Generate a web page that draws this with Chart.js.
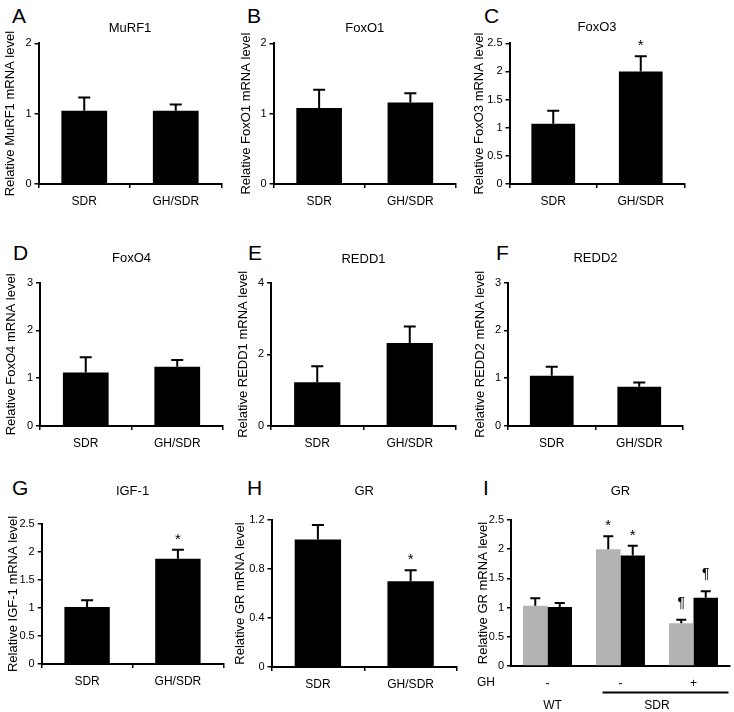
<!DOCTYPE html>
<html>
<head>
<meta charset="utf-8">
<script src="https://cdn.jsdelivr.net/npm/chart.js@4.4.0/dist/chart.umd.min.js"></script>
<style>
  body { margin: 0; background: #fff; width: 734px; height: 712px; position: relative; overflow: hidden;
         font-family: "Liberation Sans", Arial, sans-serif; }
  canvas { position: absolute; }
  .letter { position: absolute; font-size: 21px; line-height: 21px; color: #000; }
</style>
</head>
<body>
<div class="letter" style="left:12px;top:5px">A</div>
<div class="letter" style="left:247px;top:5px">B</div>
<div class="letter" style="left:484px;top:5px">C</div>
<div class="letter" style="left:13px;top:242px">D</div>
<div class="letter" style="left:248px;top:242px">E</div>
<div class="letter" style="left:496px;top:242px">F</div>
<div class="letter" style="left:12px;top:477px">G</div>
<div class="letter" style="left:247px;top:477px">H</div>
<div class="letter" style="left:483px;top:477px">I</div>

<canvas id="pA"></canvas>
<canvas id="pB"></canvas>
<canvas id="pC"></canvas>
<canvas id="pD"></canvas>
<canvas id="pE"></canvas>
<canvas id="pF"></canvas>
<canvas id="pG"></canvas>
<canvas id="pH"></canvas>
<canvas id="pI"></canvas>

<script>
// values (mean and error bar height)
var groups = ["SDR", "GH/SDR"];

var murf1 = [1.04, 1.04];
var murf1Err = [0.19, 0.09];
var foxo1 = [1.08, 1.16];
var foxo1Err = [0.26, 0.13];
var foxo3 = [1.07, 2.0];
var foxo3Err = [0.23, 0.27];
var foxo3Sig = ["", "*"];
var foxo4 = [1.12, 1.24];
var foxo4Err = [0.32, 0.14];
var redd1 = [1.22, 2.32];
var redd1Err = [0.45, 0.46];
var redd2 = [1.05, 0.82];
var redd2Err = [0.19, 0.09];
var igf1 = [1.02, 1.88];
var igf1Err = [0.12, 0.16];
var igf1Sig = ["", "*"];
var gr = [1.04, 0.70];
var grErr = [0.12, 0.09];
var grSig = ["", "*"];

// panel I
var ghRow = ["-", "-", "+"];
var ghLabel = "GH";
var strains = ["WT", "SDR"];
var grGrey = [1.03, 2.0, 0.73];
var grGreyErr = [0.13, 0.22, 0.06];
var grGreySig = ["", "*", "\u00b6"];
var grBlack = [1.01, 1.89, 1.17];
var grBlackErr = [0.07, 0.17, 0.11];
var grBlackSig = ["", "*", "\u00b6"];

// y tick values
var ticks2 = [0, 1, 2];
var ticks25 = [0, 0.5, 1, 1.5, 2, 2.5];
var ticks3 = [0, 1, 2, 3];
var ticks4 = [0, 2, 4];
var ticks12 = [0, 0.4, 0.8, 1.2];

Chart.defaults.font.family = '"Liberation Sans", Arial, sans-serif';
Chart.defaults.color = '#000';

// error bars + significance marks
var errorBars = {
  id: 'errorBars',
  afterDatasetsDraw: function(chart, args, opts) {
    var ctx = chart.ctx, y = chart.scales.y;
    chart.data.datasets.forEach(function(ds, i) {
      chart.getDatasetMeta(i).data.forEach(function(bar, j) {
        var top = y.getPixelForValue(ds.data[j] + ds.errors[j]);
        ctx.save();
        ctx.strokeStyle = '#000';
        ctx.lineWidth = 2;
        ctx.beginPath();
        ctx.moveTo(bar.x, bar.y);
        ctx.lineTo(bar.x, top);
        ctx.moveTo(bar.x - opts.cap, top);
        ctx.lineTo(bar.x + opts.cap, top);
        ctx.stroke();
        var m = ds.marks ? ds.marks[j] : '';
        if (m) {
          ctx.fillStyle = '#000';
          ctx.textAlign = 'center';
          ctx.textBaseline = 'alphabetic';
          ctx.font = (m == '*' ? '15px' : '14px') + ' "Liberation Sans", Arial, sans-serif';
          ctx.fillText(m, bar.x, top - (m == '*' ? 6 : 13));
        }
        ctx.restore();
      });
    });
  }
};

// GH row label, SDR bracket line, strain names under panel I
var strainRow = {
  id: 'strainRow',
  afterDraw: function(chart) {
    var ctx = chart.ctx, x = chart.scales.x, a = chart.chartArea;
    var x0 = x.getPixelForValue(0), x1 = x.getPixelForValue(1), x2 = x.getPixelForValue(2);
    ctx.save();
    ctx.fillStyle = '#000';
    ctx.strokeStyle = '#000';
    ctx.font = '12px "Liberation Sans", Arial, sans-serif';
    ctx.textBaseline = 'middle';
    ctx.textAlign = 'right';
    ctx.fillText(ghLabel, a.left - 16, a.bottom + 17);
    ctx.textAlign = 'center';
    ctx.fillText(strains[0], x0 + 5, a.bottom + 40);
    ctx.fillText(strains[1], (x1 + x2) / 2, a.bottom + 40);
    ctx.lineWidth = 2;
    ctx.beginPath();
    ctx.moveTo(x1 - 18, a.bottom + 26.5);
    ctx.lineTo(x2 + 35, a.bottom + 26.5);
    ctx.stroke();
    ctx.restore();
  }
};

function panel(id, g, title, yTitle, labels, datasets, yTicks, extra) {
  var c = document.getElementById(id);
  var w = Math.round(g.axisR + 4 - g.left);
  var h = Math.round(g.bottom - g.top);
  c.width = w;
  c.height = h;
  c.style.left = g.left + 'px';
  c.style.top = g.top + 'px';
  var plugins = [errorBars];
  if (extra) plugins.push(extra);
  return new Chart(c, {
    type: 'bar',
    data: { labels: labels, datasets: datasets },
    options: {
      responsive: false,
      animation: false,
      layout: { padding: { left: 0, top: 0, bottom: 0, right: w - (g.axisR - g.left) } },
      plugins: {
        legend: { display: false },
        tooltip: { enabled: false },
        title: {
          display: true, text: title, fullSize: false, color: '#000',
          font: { size: 13, weight: 'normal' },
          padding: { top: 0, bottom: g.yTop - g.top - 15.6 }
        },
        errorBars: { cap: g.cap || 6 }
      },
      scales: {
        x: {
          grid: { drawOnChartArea: false, drawTicks: g.xTicks !== false, tickLength: 4, color: '#000', lineWidth: 1.5 },
          border: { display: true, color: '#000', width: 2 },
          ticks: { font: { size: 12 }, color: '#000', padding: g.xPad || 6, maxRotation: 0, autoSkip: false },
          afterFit: function(s) { s.height = h - (g.yBot - g.top); }
        },
        y: {
          min: 0,
          max: yTicks[yTicks.length - 1],
          grid: { drawOnChartArea: false, tickLength: 4, color: '#000', lineWidth: 1.5 },
          border: { display: true, color: '#000', width: 2 },
          ticks: { font: { size: 11 }, color: '#000', padding: 3, callback: function(v) { return String(v); } },
          afterBuildTicks: function(s) { s.ticks = yTicks.map(function(v) { return { value: v }; }); },
          title: { display: true, text: yTitle, color: '#000', font: { size: 13 }, padding: { top: g.titleGap || 0, bottom: 0 } },
          afterFit: function(s) { s.width = g.axisL - g.left; }
        }
      }
    },
    plugins: plugins
  });
}

function pair(values, errs, marks) {
  return [{
    data: values, errors: errs, marks: marks || null,
    backgroundColor: '#000', barPercentage: 0.5, categoryPercentage: 1
  }];
}

panel('pA', { left: 3, top: 21, bottom: 214, axisL: 38.5, axisR: 221.5, yTop: 43.3, yBot: 184 },
  'MuRF1', 'Relative MuRF1 mRNA level', groups, pair(murf1, murf1Err), ticks2);
panel('pB', { left: 239, top: 21, bottom: 214, axisL: 273.5, axisR: 456, yTop: 43.3, yBot: 184 },
  'FoxO1', 'Relative FoxO1 mRNA level', groups, pair(foxo1, foxo1Err), ticks2);
panel('pC', { left: 472, top: 20, bottom: 214, axisL: 509.5, axisR: 684.5, yTop: 43.3, yBot: 184 },
  'FoxO3', 'Relative FoxO3 mRNA level', groups, pair(foxo3, foxo3Err, foxo3Sig), ticks25);

panel('pD', { left: 4, top: 251, bottom: 456, axisL: 40, axisR: 223, yTop: 282.7, yBot: 426 },
  'FoxO4', 'Relative FoxO4 mRNA level', groups, pair(foxo4, foxo4Err), ticks3);
panel('pE', { left: 236, top: 252, bottom: 456, axisL: 271, axisR: 456, yTop: 282.7, yBot: 426 },
  'REDD1', 'Relative REDD1 mRNA level', groups, pair(redd1, redd1Err), ticks4);
panel('pF', { left: 473, top: 251, bottom: 456, axisL: 508, axisR: 683, yTop: 282.7, yBot: 426 },
  'REDD2', 'Relative REDD2 mRNA level', groups, pair(redd2, redd2Err), ticks3);

panel('pG', { left: 6, top: 484, bottom: 694, axisL: 41.7, axisR: 223.3, yTop: 524, yBot: 664 },
  'IGF-1', 'Relative IGF-1 mRNA level', groups, pair(igf1, igf1Err, igf1Sig), ticks25);
panel('pH', { left: 233, top: 484, bottom: 697, axisL: 271.5, axisR: 457, yTop: 520, yBot: 667 },
  'GR', 'Relative GR mRNA level', groups, pair(gr, grErr, grSig), ticks12);
panel('pI', { left: 468, top: 484, bottom: 712, axisL: 511, axisR: 730, yTop: 520, yBot: 666, xTicks: false, xPad: 10, cap: 5, titleGap: 8 },
  'GR', 'Relative GR mRNA level', ghRow, [
    { data: grGrey, errors: grGreyErr, marks: grGreySig, backgroundColor: '#b3b3b3', barPercentage: 1, categoryPercentage: 0.67 },
    { data: grBlack, errors: grBlackErr, marks: grBlackSig, backgroundColor: '#000', barPercentage: 1, categoryPercentage: 0.67 }
  ], ticks25, strainRow);
</script>
</body>
</html>
